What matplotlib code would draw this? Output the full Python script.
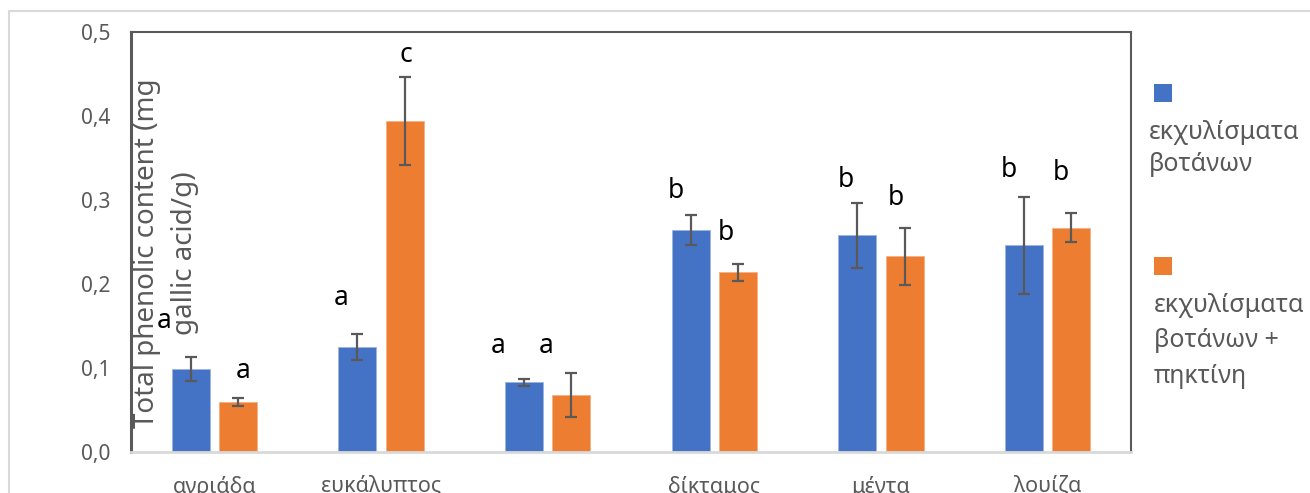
import matplotlib
matplotlib.use("Agg")
import matplotlib.pyplot as plt
import numpy as np
from matplotlib.patches import Rectangle

# Data
categories = ["αγριάδα", "ευκάλυπτος", "", "δίκταμος", "μέντα", "λουίζα"]
series_names = ["εκχυλίσματα\nβοτάνων", "εκχυλίσματα\nβοτάνων +\nπηκτίνη"]
extract_vals = [0.099, 0.125, 0.083, 0.264, 0.258, 0.246]
extract_err = [0.014, 0.016, 0.0045, 0.018, 0.039, 0.058]
pectin_vals = [0.0595, 0.394, 0.068, 0.214, 0.233, 0.267]
pectin_err = [0.005, 0.052, 0.026, 0.010, 0.034, 0.017]
extract_letters = ["a", "a", "a", "b", "b", "b"]
pectin_letters = ["a", "c", "a", "b", "b", "b"]
yticks = [0.0, 0.1, 0.2, 0.3, 0.4, 0.5]

# letter anchor positions (data coords, baseline)
extract_letter_pos = [(-0.30, 0.148), (0.76, 0.175), (1.70, 0.118),
                      (2.77, 0.302), (3.79, 0.315), (4.77, 0.327)]
pectin_letter_pos = [(0.17, 0.088), (1.15, 0.464), (1.99, 0.118),
                     (3.07, 0.252), (4.09, 0.294), (5.08, 0.324)]

BLUE = "#4472C4"
ORANGE = "#ED7D31"
GRAY = "#595959"
LIGHT = "#D9D9D9"

plt.rcParams["font.family"] = ["Noto Sans", "DejaVu Sans"]

W, H = 1310, 493
fig = plt.figure(figsize=(W / 100, H / 100), dpi=100)

# outer chart-area border
fig.add_artist(Rectangle((9 / W, -0.1), 1.2, 1 - 11 / H + 0.1,
                         transform=fig.transFigure, fill=False,
                         edgecolor=LIGHT, linewidth=1.5))

ax = fig.add_axes([131 / W, 1 - 452 / H, 1000 / W, 420 / H])

x = np.arange(len(categories))
bw = 0.228
off = 0.1425
ax.bar(x - off, extract_vals, bw, color=BLUE, edgecolor="#9DB3E0", linewidth=0.6, zorder=2)
ax.bar(x + off, pectin_vals, bw, color=ORANGE, edgecolor="#F4B183", linewidth=0.6, zorder=2)
ax.errorbar(x - off, extract_vals, yerr=extract_err, fmt="none", ecolor=GRAY,
            elinewidth=1.6, capsize=4.3, capthick=1.6, zorder=3)
ax.errorbar(x + off, pectin_vals, yerr=pectin_err, fmt="none", ecolor=GRAY,
            elinewidth=1.6, capsize=4.3, capthick=1.6, zorder=3)

for (px, py), t in zip(extract_letter_pos, extract_letters):
    ax.text(px, py, t, ha="center", va="baseline", fontsize=19, color="black", zorder=4)
for (px, py), t in zip(pectin_letter_pos, pectin_letters):
    ax.text(px, py, t, ha="center", va="baseline", fontsize=19, color="black", zorder=4)

ax.set_xlim(-0.5, len(categories) - 0.5)
ax.set_ylim(0, 0.5)
ax.set_yticks(yticks)
ax.set_yticklabels([f"{v:.1f}".replace(".", ",") for v in yticks])
ax.set_xticks(x)
ax.set_xticklabels(categories)
ax.tick_params(axis="y", length=0, pad=15, labelsize=15, labelcolor=GRAY)
ax.tick_params(axis="x", length=0, pad=17, labelsize=15.5, labelcolor=GRAY)

for side in ["left", "top", "right"]:
    ax.spines[side].set_color(GRAY)
ax.spines["left"].set_linewidth(2.2)
ax.spines["top"].set_linewidth(1.5)
ax.spines["right"].set_linewidth(1.5)
ax.spines["bottom"].set_color(LIGHT)
ax.spines["bottom"].set_linewidth(2)

# y-axis title drawn over the plot area
fig.text(166 / W, 1 - 253 / H, "Total phenolic content (mg\ngallic acid/g)",
         rotation=90, ha="center", va="center", fontsize=20, color=GRAY,
         multialignment="center", linespacing=1.5, zorder=5)

# legend: square marker above each wrapped series name (one text per line)
legend_items = [(BLUE, series_names[0], 84, 1149, [139, 171]),
                (ORANGE, series_names[1], 257, 1154, [312, 347, 383])]
for color, label, sq_top, tx, baselines in legend_items:
    fig.add_artist(Rectangle((1154 / W, 1 - (sq_top + 18) / H), 18 / W, 18 / H,
                             transform=fig.transFigure, facecolor=color, edgecolor="none"))
    for line, b in zip(label.split("\n"), baselines):
        fig.text(tx / W, 1 - b / H, line, ha="left", va="baseline",
                 fontsize=18, color=GRAY)

fig.savefig("out.png", dpi=100)
